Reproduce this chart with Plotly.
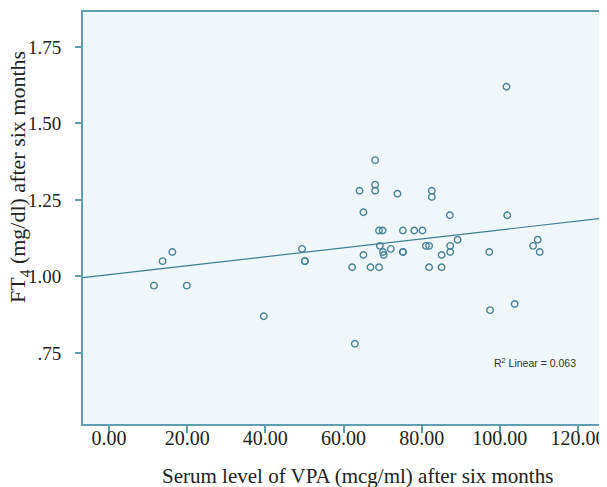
import plotly.graph_objects as go
import numpy as np

# Data
vpa = [11.5, 13.7, 16.2, 19.9, 39.6, 49.4, 50.1, 50.1, 62.2, 62.9,
       64.1, 65.1, 65.1, 66.9, 68.1, 68.1, 68.1, 69.1, 69.1, 70.0,
       69.3, 70.1, 70.3, 72.1, 73.8, 75.2, 75.2, 75.2, 78.1, 80.2,
       81.1, 81.9, 81.9, 82.6, 82.6, 85.1, 85.1, 87.2, 87.3, 87.3,
       89.2, 97.3, 97.5, 101.7, 101.9, 103.8, 108.5, 109.7, 110.2]
ft4 = [0.97, 1.05, 1.08, 0.97, 0.87, 1.09, 1.05, 1.05, 1.03, 0.78,
       1.28, 1.21, 1.07, 1.03, 1.38, 1.30, 1.28, 1.03, 1.15, 1.15,
       1.10, 1.08, 1.07, 1.09, 1.27, 1.15, 1.08, 1.08, 1.15, 1.15,
       1.10, 1.10, 1.03, 1.28, 1.26, 1.07, 1.03, 1.20, 1.08, 1.10,
       1.12, 1.08, 0.89, 1.62, 1.20, 0.91, 1.10, 1.12, 1.08]

fit_intercept = 1.006
fit_slope = 0.00146
r2_text = "R<sup>2</sup> Linear = 0.063"

x_tickvals = [0, 20, 40, 60, 80, 100, 120]
x_ticktext = ["0.00", "20.00", "40.00", "60.00", "80.00", "100.00", "120.00"]
y_tickvals = [0.75, 1.00, 1.25, 1.50, 1.75]
y_ticktext = [".75", "1.00", "1.25", "1.50", "1.75"]

x_range = [-6.66, 126.4]
y_range = [0.518, 1.864]

frame_col = "#5f9db0"
marker_col = "#4a8298"
line_col = "#3f7d92"
serif = "Liberation Serif, Times New Roman, serif"

fig = go.Figure()

lx = np.array(x_range)
fig.add_trace(go.Scatter(
    x=lx, y=fit_intercept + fit_slope * lx, mode="lines",
    line=dict(color=line_col, width=1.2), hoverinfo="skip", showlegend=False))

fig.add_trace(go.Scatter(
    x=vpa, y=ft4, mode="markers",
    marker=dict(symbol="circle-open", size=6.5, color=marker_col,
                line=dict(color=marker_col, width=1.4)),
    showlegend=False))

fig.add_annotation(
    xref="paper", yref="paper", x=0, y=0.5995, xshift=-64,
    text="FT<sub>4</sub> (mg/dl) after six months", textangle=-90,
    showarrow=False, xanchor="center", yanchor="middle",
    font=dict(family=serif, size=22, color="#222222"))

fig.add_annotation(
    xref="paper", yref="paper", x=0.5, y=0, xshift=14, yshift=-52,
    text="Serum level of VPA (mcg/ml) after six months",
    showarrow=False, xanchor="center", yanchor="middle",
    font=dict(family=serif, size=21, color="#222222"))

fig.add_annotation(
    xref="paper", yref="paper", x=(537 - 83) / 522, y=(424.5 - 362.7) / 414.5,
    text=r2_text, showarrow=False, xanchor="center", yanchor="middle",
    font=dict(family="Liberation Sans, Arial, sans-serif", size=10.5, color="#333333"))

# The page body has an 8px margin, so the figure is shifted by 8px
fig.update_layout(
    width=599, height=479,
    margin=dict(l=75, r=2, t=2, b=62.5),
    paper_bgcolor="white",
    plot_bgcolor="#eff7fb",
    font=dict(family=serif, color="#222222"),
)

fig.update_xaxes(
    range=x_range, tickvals=x_tickvals, ticktext=x_ticktext,
    showgrid=False, zeroline=False,
    showline=True, linecolor=frame_col, linewidth=2, mirror=True,
    ticks="outside", ticklen=7, tickwidth=1.5, tickcolor=frame_col,
    ticklabelstandoff=-12,
    tickfont=dict(family=serif, size=20, color="#222222"),
)
fig.update_yaxes(
    range=y_range, tickvals=y_tickvals, ticktext=y_ticktext,
    showgrid=False, zeroline=False,
    showline=True, linecolor=frame_col, linewidth=2, mirror=True,
    ticks="outside", ticklen=6, tickwidth=1.5, tickcolor=frame_col,
    ticklabelstandoff=10,
    tickfont=dict(family=serif, size=19, color="#222222"),
)

fig.write_html("out.html")
